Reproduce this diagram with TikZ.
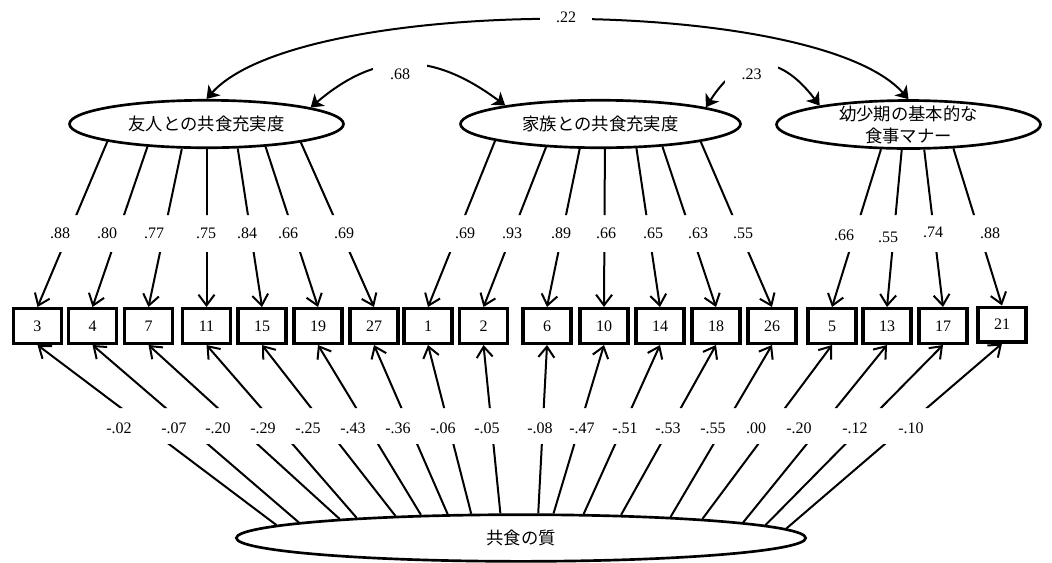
\documentclass[tikz,border=0pt]{standalone}
\usepackage{fontspec}
\setmainfont{Liberation Serif}
\newfontfamily\jp{Noto Sans CJK JP}
\usetikzlibrary{arrows.meta,shapes.geometric}
\begin{document}
\begin{tikzpicture}[x=0.75pt,y=-0.75pt,
  lat/.style={ellipse, draw, line width=2pt, inner sep=0pt, fill=white,
    font=\jp\fontsize{13}{16.5}\selectfont, align=center},
  obs/.style={rectangle, draw, line width=2.5pt, minimum width=35.8pt,
    minimum height=26pt, inner sep=0pt, font=\fontsize{12}{14}\selectfont},
  lbl/.style={font=\fontsize{12}{14}\selectfont, inner sep=1pt},
  gaplbl/.style={lbl, fill=white},
  ln/.style={line width=1.5pt},
  barb/.style={ln, -{Straight Barb[length=8pt,width=12pt]}},
  cor/.style={ln, {Stealth[length=9pt,width=12pt,inset=2.5pt]}-{Stealth[length=9pt,width=12pt,inset=2.5pt]}}
]
\path[use as bounding box, fill=white] (0,0) rectangle (1052,562);

% latent variables
\node[lat, minimum width=205.5pt, minimum height=35.6pt] (f) at (206.5,124) {友人との共食充実度};
\node[lat, minimum width=210pt, minimum height=35.6pt] (h) at (600.5,124) {家族との共食充実度};
\node[lat, minimum width=198pt, minimum height=36pt, inner ysep=-3pt] (m) at (908.5,124.5) {幼少期の基本的な\\食事マナー};
\node[lat, minimum width=427pt, minimum height=35pt] (q) at (521,538) {共食の質};

% observed variables
\foreach \n/\x in {3/37.5, 4/92.5, 7/148.5, 11/206.5, 15/262, 19/318, 27/374,
  1/428, 2/483.5, 6/547, 10/604, 14/660, 18/716, 26/772, 5/832, 13/887, 17/943}
  \node[obs] (b\n) at (\x,326) {\n};
\node[obs] (b21) at (1002,324.5) {21};

% loadings
\begin{scope}
\clip (0,0) rectangle (1052,215) (0,252) rectangle (1052,562);
\foreach \a/\b in {190.5/3, 201.2/4, 225.1/7, 270/11, 322.3/15, 339.2/19, 349.5/27}
  \draw[barb] (f.\a) -- (b\b.north);
\foreach \a/\b in {189.9/1, 203.4/2, 230.3/6, 280.2/10, 326.5/14, 340.6/18, 350.5/26}
  \draw[barb] (h.\a) -- (b\b.north);
\foreach \a/\b in {222.8/5, 255.4/13, 302/17, 332.1/21}
  \draw[barb] (m.\a) -- (b\b.north);
\end{scope}

% general factor
\begin{scope}
\clip (0,0) rectangle (1052,408) (0,444) rectangle (1052,570);
\foreach \a/\b in {177.7/3, 176.2/4, 174.6/7, 173.0/11, 170.4/15, 167.3/19, 162.7/27,
  154.3/1, 130.7/2, 55.1/6, 37.2/10, 21.1/14, 13.2/18, 8.5/26, 6.5/5, 4.7/13, 3.3/17, 2.2/21}
  \draw[barb] (q.\a) -- (b\b.south);
\end{scope}

% loading labels
\foreach \t/\x/\y [count=\i] in {.88/60/233, .80/107/233, .77/154/233, .75/206/233,
  .84/247/233, .66/288/233, .69/344/233, .69/465/233, .93/512/233, .89/561/233,
  .66/606/233, .65/653/233, .63/698/233, .55/743/233, .66/844/235, .55/888/237,
  .74/933/232, .88/990/233}
  \node[lbl] (la\i) at (\x,\y) {\t};

\foreach \t/\x [count=\i] in {-.02/119, -.07/174, -.20/218, -.29/263, -.25/308,
  -.43/353, -.36/398, -.06/443, -.05/487, -.08/540, -.47/582, -.51/625, -.53/668,
  -.55/713, .00/756, -.20/799, -.12/855, -.10/911}
  \node[lbl] (lb\i) at (\x,428) {\t};

% correlations
\draw[cor] (f.north) .. controls (300,-6) and (816,-6) .. (m.north);
\draw[cor] (f.9.6) .. controls (377,51) and (432,51) .. (h.169.7);
\draw[cor] (h.9.5) .. controls (741,52) and (779,52) .. (m.168.8);
\node[gaplbl, minimum width=39pt, minimum height=20pt] (c1) at (566,17) {.22};
\node[gaplbl, minimum width=40.5pt, minimum height=24pt] (c2) at (400,74) {.68};
\node[gaplbl, minimum width=40pt, minimum height=24pt] (c3) at (751.5,74) {.23};
\end{tikzpicture}
\end{document}
